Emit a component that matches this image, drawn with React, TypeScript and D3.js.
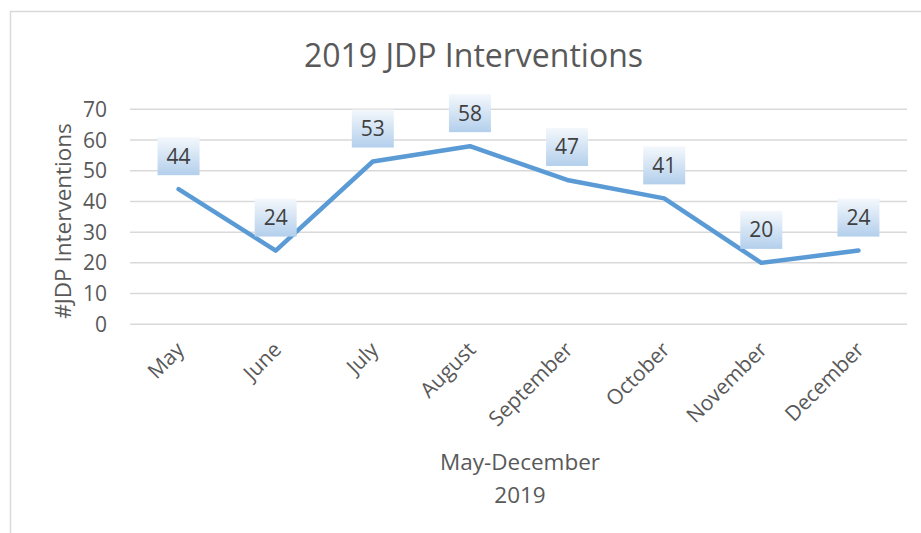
import React, { useRef, useEffect } from 'react'
import * as d3 from 'd3'

const months = ['May', 'June', 'July', 'August', 'September', 'October', 'November', 'December']
const interventions = [44, 24, 53, 58, 47, 41, 20, 24]
const yTicks = [0, 10, 20, 30, 40, 50, 60, 70]

const FONT = '"Open Sans", "Noto Sans", sans-serif'
const TEXT = '#595959'

const App = () => {
    const element = useRef<SVGSVGElement>(null)

    useEffect(() => {
        const width = 921
        const height = 533
        const svg = d3.select(element.current)
        svg.selectAll('*').remove()

        // plot area bounds
        const left = 130, right = 907, top = 109.3, bottom = 324.3

        const x = d3.scaleBand().domain(months).range([left, right])
        const y = d3.scaleLinear().domain([0, 70]).range([bottom, top])

        const defs = svg.append('defs')
        const grad = defs.append('linearGradient')
            .attr('id', 'lblGrad')
            .attr('x1', 0).attr('y1', 0).attr('x2', 0).attr('y2', 1)
        grad.append('stop').attr('offset', '0%').attr('stop-color', '#f4f8fc')
        grad.append('stop').attr('offset', '100%').attr('stop-color', '#b3cfec')

        svg.append('rect')
            .attr('width', width).attr('height', height)
            .attr('fill', '#fff')

        // chart border (runs off the right/bottom edges)
        svg.append('rect')
            .attr('x', 10.5).attr('y', 11.5)
            .attr('width', 940).attr('height', 560)
            .attr('fill', 'none')
            .attr('stroke', '#d9d9d9')
            .attr('stroke-width', 1.5)

        // title
        svg.append('text')
            .attr('x', 473.5).attr('y', 67)
            .attr('text-anchor', 'middle')
            .style('font-family', FONT)
            .style('font-size', '32px')
            .style('fill', TEXT)
            .text('2019 JDP Interventions')

        // gridlines
        svg.append('g')
            .selectAll('line')
            .data(yTicks)
            .enter()
            .append('line')
            .attr('x1', left).attr('x2', right)
            .attr('y1', d => y(d)).attr('y2', d => y(d))
            .attr('stroke', '#d9d9d9')
            .attr('stroke-width', 1.5)

        // y tick labels
        svg.append('g')
            .selectAll('text')
            .data(yTicks)
            .enter()
            .append('text')
            .attr('x', 107)
            .attr('y', d => y(d) + 7.5)
            .attr('text-anchor', 'end')
            .style('font-family', FONT)
            .style('font-size', '21px')
            .style('fill', TEXT)
            .text(d => d)

        // y axis title
        svg.append('text')
            .attr('transform', 'translate(71, 221) rotate(-90)')
            .attr('text-anchor', 'middle')
            .style('font-family', FONT)
            .style('font-size', '22.5px')
            .style('fill', TEXT)
            .text('#JDP Interventions')

        // x tick labels, rotated
        svg.append('g')
            .selectAll('text')
            .data(months)
            .enter()
            .append('text')
            .attr('transform', d => `translate(${x(d)! + x.bandwidth() / 2 + 7}, 351) rotate(-45)`)
            .attr('text-anchor', 'end')
            .style('font-family', FONT)
            .style('font-size', '21px')
            .style('fill', TEXT)
            .text(d => d)

        // x axis title
        const xt = svg.append('text')
            .attr('text-anchor', 'middle')
            .style('font-family', FONT)
            .style('font-size', '22.5px')
            .style('fill', TEXT)
        xt.append('tspan').attr('x', 520).attr('y', 470).text('May-December')
        xt.append('tspan').attr('x', 520).attr('y', 503).text('2019')

        // the line
        const cx = (d: string) => x(d)! + x.bandwidth() / 2
        const line = d3.line<number>()
            .x((d, i) => cx(months[i]))
            .y(d => y(d))

        svg.append('path')
            .datum(interventions)
            .attr('d', line)
            .attr('fill', 'none')
            .attr('stroke', '#5b9bd5')
            .attr('stroke-width', 4.5)
            .attr('stroke-linecap', 'round')
            .attr('stroke-linejoin', 'round')

        // data labels
        const lbl = svg.append('g')
            .selectAll('g')
            .data(interventions)
            .enter()
            .append('g')
            .attr('transform', (d, i) => `translate(${cx(months[i])}, ${y(d) - 14})`)

        lbl.append('rect')
            .attr('x', -21).attr('y', -38)
            .attr('width', 42).attr('height', 38)
            .attr('fill', 'url(#lblGrad)')

        lbl.append('text')
            .attr('x', 0).attr('y', -11.5)
            .attr('text-anchor', 'middle')
            .style('font-family', FONT)
            .style('font-size', '21px')
            .style('fill', '#404040')
            .text(d => d)
    }, [])

    return (
        <svg ref={element} width={921} height={533}
            style={{ position: 'absolute', left: 0, top: 0, display: 'block' }} />
    )
}

export default App
